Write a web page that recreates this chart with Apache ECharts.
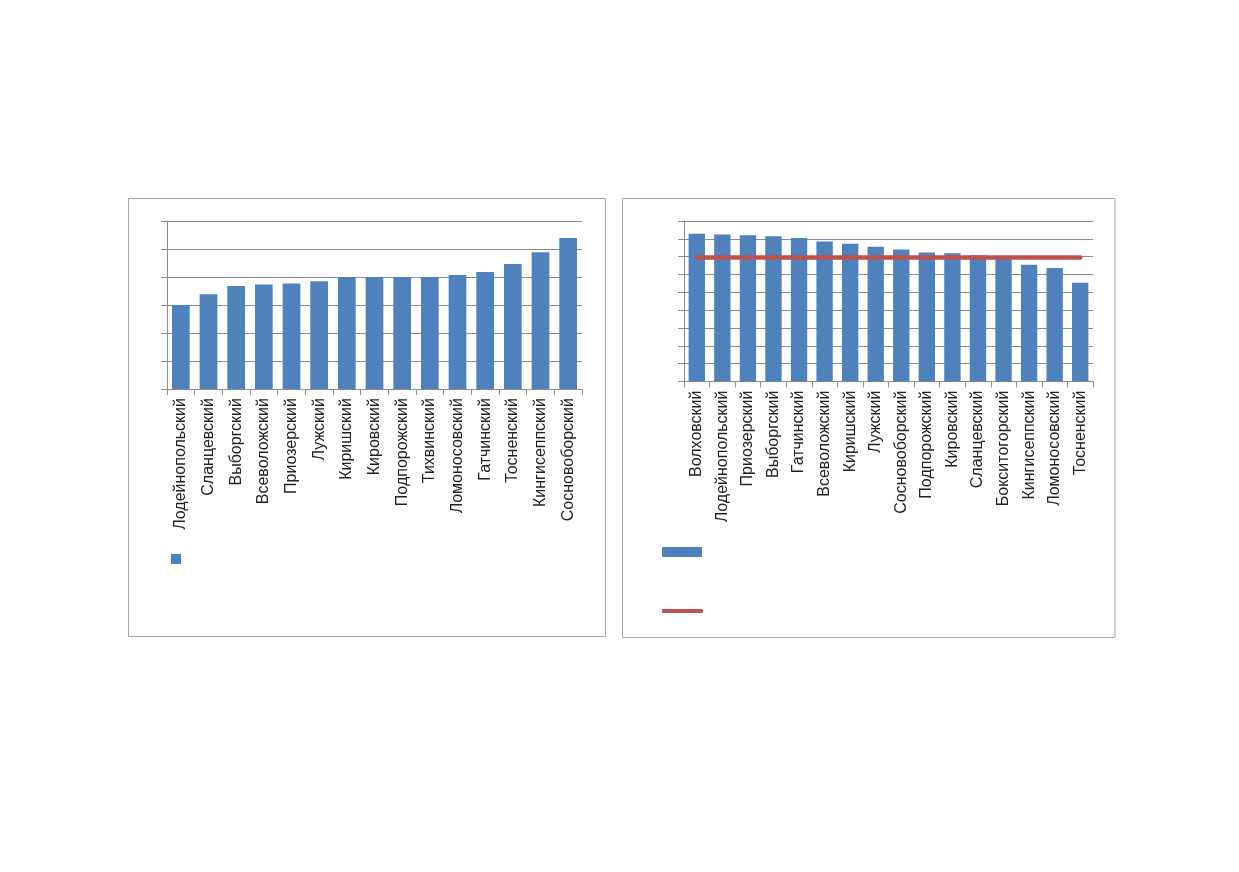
<!DOCTYPE html>
<html>
<head>
<meta charset="utf-8">
<script src="https://cdn.jsdelivr.net/npm/echarts@6/dist/echarts.min.js"></script>
<style>
html,body{margin:0;padding:0;background:#fff;}
#c{width:1239px;height:872px;}
</style>
</head>
<body>
<div id="c"></div>
<script>
// Left chart
const leftCategories = ['Лодейнопольский','Сланцевский','Выборгский','Всеволожский','Приозерский','Лужский','Киришский','Кировский','Подпорожский','Тихвинский','Ломоносовский','Гатчинский','Тосненский','Кингисеппский','Сосновоборский'];
const leftValues = [3.0, 3.38, 3.68, 3.73, 3.77, 3.85, 4.0, 4.0, 4.0, 4.0, 4.07, 4.18, 4.46, 4.88, 5.39];
// Right chart
const rightCategories = ['Волховский','Лодейнопольский','Приозерский','Выборгский','Гатчинский','Всеволожский','Киришский','Лужский','Сосновоборский','Подпорожский','Кировский','Сланцевский','Бокситогорский','Кингисеппский','Ломоносовский','Тосненский'];
const rightValues = [8.29, 8.24, 8.20, 8.15, 8.05, 7.85, 7.73, 7.55, 7.40, 7.23, 7.19, 7.08, 6.96, 6.54, 6.37, 5.54];
const rightAverage = [6.95, 6.95, 6.95, 6.95, 6.95, 6.95, 6.95, 6.95, 6.95, 6.95, 6.95, 6.95, 6.95, 6.95, 6.95, 6.95];

const gridColor = '#8c8c8c';
const borderColor = '#a6a6a6';
const blue = '#4F81BD';
const red = '#C0504D';
const font = 'Liberation Sans, Arial, sans-serif';

const chart = echarts.init(document.getElementById('c'), null, {renderer: 'canvas'});

function xAx(gridIndex, data) {
  return {
    type: 'category', gridIndex: gridIndex, data: data,
    axisLine: {show: true, lineStyle: {color: gridColor, width: 1}},
    axisTick: {show: true, alignWithLabel: false, length: 6, lineStyle: {color: gridColor}},
    axisLabel: {rotate: 90, interval: 0, fontSize: 16, color: '#222', fontFamily: font, margin: 9},
    splitLine: {show: false}
  };
}
function yAx(gridIndex, max) {
  return {
    type: 'value', gridIndex: gridIndex, min: 0, max: max, interval: 1,
    axisLine: {show: true, lineStyle: {color: gridColor, width: 1}},
    axisTick: {show: true, length: 6, lineStyle: {color: gridColor}},
    axisLabel: {show: false},
    splitLine: {show: true, lineStyle: {color: gridColor, width: 1}}
  };
}

const option = {
  animation: false,
  backgroundColor: '#fff',
  grid: [
    {left: 167, right: 1239 - 582, top: 221, bottom: 872 - 389, containLabel: false},
    {left: 684, right: 1239 - 1093, top: 221, bottom: 872 - 381.5, containLabel: false}
  ],
  xAxis: [xAx(0, leftCategories), xAx(1, rightCategories)],
  yAxis: [yAx(0, 6), yAx(1, 9)],
  legend: [
    {data: [{name: 'Ряд1', icon: 'rect'}], left: 171, top: 554, padding: 0, itemWidth: 10, itemHeight: 10,
      formatter: function(){ return ' '; }, textStyle: {fontSize: 10, lineHeight: 10}, selectedMode: false},
    {data: [{name: 'Ряд2', icon: 'rect'}], left: 662, top: 547, padding: 0, itemWidth: 40, itemHeight: 10,
      formatter: function(){ return ' '; }, textStyle: {fontSize: 10, lineHeight: 10}, selectedMode: false},
    {data: [{name: 'Среднее', icon: 'roundRect'}], left: 662, top: 609, padding: 0, itemWidth: 41, itemHeight: 4,
      formatter: function(){ return ' '; }, textStyle: {fontSize: 4, lineHeight: 4}, selectedMode: false}
  ],
  graphic: [
    {type: 'rect', shape: {x: 128.5, y: 198.5, width: 477, height: 438}, style: {fill: 'none', stroke: borderColor, lineWidth: 1}, silent: true},
    {type: 'rect', shape: {x: 622.5, y: 198.5, width: 492.5, height: 439}, style: {fill: 'none', stroke: borderColor, lineWidth: 1}, silent: true}
  ],
  series: [
    {name: 'Ряд1', type: 'bar', xAxisIndex: 0, yAxisIndex: 0, data: leftValues,
      barCategoryGap: '36%', itemStyle: {color: blue}},
    {name: 'Ряд2', type: 'bar', xAxisIndex: 1, yAxisIndex: 1, data: rightValues,
      barCategoryGap: '36%', itemStyle: {color: blue}},
    {name: 'Среднее', type: 'line', xAxisIndex: 1, yAxisIndex: 1, data: rightAverage,
      symbol: 'none', lineStyle: {color: red, width: 4.5, cap: 'round'}, itemStyle: {color: red}, z: 5}
  ]
};
chart.setOption(option);
</script>
</body>
</html>
